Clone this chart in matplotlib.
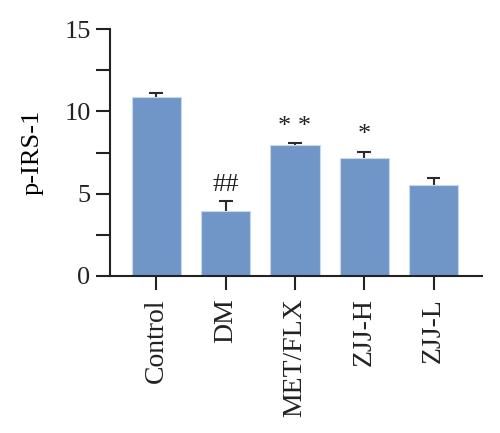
import matplotlib.pyplot as plt
import numpy as np

groups = ['Control', 'DM', 'MET/FLX', 'ZJJ-H', 'ZJJ-L']
means = [10.85, 3.95, 7.93, 7.18, 5.50]
errs = [0.24, 0.58, 0.12, 0.35, 0.43]
marks = ['', '##', '* *', '*', '']

plt.rcParams['font.family'] = 'serif'
plt.rcParams['font.serif'] = ['Liberation Serif', 'DejaVu Serif']

fig = plt.figure(figsize=(5, 4.33), dpi=100)
ax = fig.add_axes([0.22, 0.3626, 0.744, 0.5704])

x = np.arange(len(groups))
tops = np.array(means) + np.array(errs)
ax.bar(x, means, width=0.71, color='#7096c8', edgecolor='#c9d8ee', linewidth=0.8, zorder=2)
# upper error bars only: stem + cap
ax.vlines(x, means, tops, color='#2b2b2b', linewidth=1.5, zorder=1)
ax.hlines(tops, x - 0.1, x + 0.1, color='#2b2b2b', linewidth=1.5, zorder=1)

# significance marks above bars
for xi, t, s in zip(x, tops, marks):
    if s:
        ax.text(xi, t + 0.35, s, ha='center', va='bottom', fontsize=19, color='#222222')

ax.set_xlim(-0.67, 4.70)
ax.set_ylim(0, 15)
ax.set_yticks([0, 5, 10, 15])
ax.set_yticks([2.5, 7.5, 12.5], minor=True)
ax.set_xticks(x)
ax.set_xticklabels(groups, rotation=90)
ax.set_ylabel('p-IRS-1', fontsize=19, labelpad=15)

for sp in ['top', 'right']:
    ax.spines[sp].set_visible(False)
for sp in ['left', 'bottom']:
    ax.spines[sp].set_linewidth(1.5)
    ax.spines[sp].set_color('#222222')

ax.tick_params(axis='y', which='both', length=10, width=1.5, labelsize=19, color='#222222',
               labelcolor='#222222', pad=4)
ax.tick_params(axis='x', length=10, width=1.5, labelsize=20, color='#222222',
               labelcolor='#222222', pad=6)

fig.savefig('out.png', dpi=100)
